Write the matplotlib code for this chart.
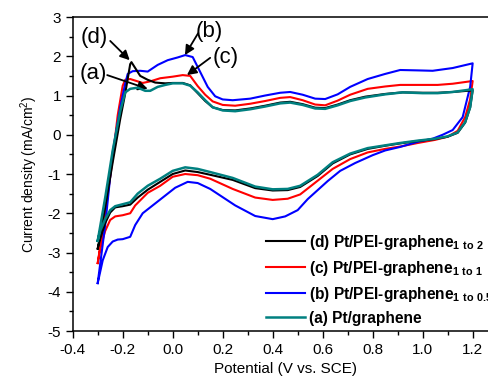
import numpy as np
import matplotlib
matplotlib.use('Agg')
import matplotlib.pyplot as plt
from matplotlib.ticker import MultipleLocator

plt.rcParams['font.family'] = ['Liberation Sans', 'DejaVu Sans']
plt.rcParams['mathtext.fontset'] = 'custom'
plt.rcParams['mathtext.rm'] = 'Liberation Sans'
plt.rcParams['mathtext.bf'] = 'Liberation Sans:bold'

# (a) Pt/graphene  -- forward then reverse scan
a_x = [-0.30, -0.27, -0.24, -0.21, -0.19, -0.17, -0.14, -0.11, -0.09, -0.06, -0.03, 0.00, 0.04, 0.07,
       0.10, 0.13, 0.16, 0.20, 0.25, 0.31, 0.37, 0.43, 0.47, 0.52, 0.57, 0.61, 0.66, 0.71, 0.77, 0.85,
       0.92, 1.00, 1.06, 1.12, 1.20,
       1.19, 1.17, 1.14, 1.10, 1.05, 0.98, 0.91, 0.85, 0.78, 0.71, 0.64, 0.58, 0.51, 0.46, 0.40, 0.33,
       0.24, 0.15, 0.10, 0.05, 0.00, -0.05, -0.10, -0.14, -0.17, -0.20, -0.23, -0.25, -0.27, -0.29, -0.30]
a_y = [-2.70, -1.60, -0.40, 0.60, 1.08, 1.17, 1.20, 1.12, 1.12, 1.22, 1.27, 1.31, 1.31, 1.25,
       1.08, 0.88, 0.70, 0.62, 0.60, 0.65, 0.72, 0.80, 0.82, 0.76, 0.67, 0.66, 0.75, 0.86, 0.95, 1.03,
       1.08, 1.06, 1.06, 1.09, 1.16,
       0.70, 0.32, 0.06, -0.04, -0.10, -0.15, -0.21, -0.27, -0.34, -0.48, -0.70, -1.02, -1.30, -1.38, -1.39, -1.32,
       -1.10, -0.95, -0.87, -0.83, -0.92, -1.12, -1.30, -1.50, -1.72, -1.77, -1.82, -1.92, -2.15, -2.45, -2.70]

# (d) Pt/PEI-graphene 1 to 2
d_x = [-0.30, -0.27, -0.24, -0.21, -0.19, -0.17, -0.165, -0.15, -0.13, -0.10, -0.07, -0.03, 0.00, 0.04,
       0.07, 0.10, 0.13, 0.16, 0.20, 0.25, 0.31, 0.37, 0.43, 0.47, 0.52, 0.57, 0.61, 0.66, 0.71, 0.77,
       0.85, 0.92, 1.00, 1.06, 1.12, 1.20,
       1.19, 1.17, 1.14, 1.10, 1.05, 0.98, 0.91, 0.85, 0.78, 0.71, 0.64, 0.58, 0.51, 0.46, 0.40, 0.33,
       0.24, 0.15, 0.10, 0.05, 0.00, -0.05, -0.10, -0.14, -0.17, -0.20, -0.23, -0.25, -0.27, -0.29, -0.30]
d_y = [-2.90, -1.85, -0.70, 0.40, 1.05, 1.80, 1.85, 1.70, 1.50, 1.40, 1.33, 1.31, 1.32, 1.32,
       1.26, 1.06, 0.86, 0.70, 0.63, 0.62, 0.67, 0.74, 0.82, 0.84, 0.78, 0.69, 0.68, 0.77, 0.88, 0.97,
       1.04, 1.08, 1.07, 1.07, 1.09, 1.13,
       0.70, 0.31, 0.05, -0.05, -0.11, -0.16, -0.22, -0.28, -0.36, -0.50, -0.73, -1.05, -1.33, -1.41, -1.42, -1.36,
       -1.15, -1.02, -0.95, -0.91, -1.00, -1.20, -1.40, -1.60, -1.78, -1.82, -1.85, -1.98, -2.25, -2.65, -2.90]

# (c) Pt/PEI-graphene 1 to 1
c_x = [-0.30, -0.27, -0.24, -0.22, -0.20, -0.19, -0.17, -0.14, -0.12, -0.09, -0.05, 0.00, 0.04, 0.07,
       0.10, 0.13, 0.16, 0.20, 0.25, 0.31, 0.37, 0.43, 0.47, 0.52, 0.57, 0.61, 0.66, 0.71, 0.78, 0.85,
       0.91, 1.00, 1.06, 1.12, 1.20,
       1.19, 1.17, 1.14, 1.10, 1.05, 0.98, 0.91, 0.85, 0.78, 0.71, 0.64, 0.58, 0.51, 0.46, 0.40, 0.33,
       0.24, 0.15, 0.10, 0.05, 0.00, -0.05, -0.10, -0.15, -0.17, -0.20, -0.23, -0.25, -0.27, -0.29, -0.30]
c_y = [-3.27, -2.00, -0.60, 0.50, 1.25, 1.40, 1.42, 1.36, 1.32, 1.36, 1.44, 1.48, 1.52, 1.50,
       1.24, 1.02, 0.85, 0.76, 0.74, 0.79, 0.86, 0.94, 0.96, 0.88, 0.77, 0.75, 0.87, 1.02, 1.17, 1.23,
       1.27, 1.27, 1.27, 1.30, 1.37,
       0.90, 0.45, 0.10, -0.05, -0.13, -0.21, -0.30, -0.36, -0.45, -0.62, -0.87, -1.17, -1.52, -1.63, -1.66, -1.60,
       -1.38, -1.12, -1.03, -1.00, -1.07, -1.30, -1.48, -1.80, -2.00, -2.05, -2.08, -2.17, -2.45, -2.90, -3.27]

# (b) Pt/PEI-graphene 1 to 0.5
b_x = [-0.30, -0.27, -0.24, -0.21, -0.19, -0.18, -0.16, -0.13, -0.10, -0.06, -0.02, 0.02, 0.05, 0.08,
       0.11, 0.14, 0.17, 0.20, 0.24, 0.31, 0.37, 0.43, 0.47, 0.52, 0.57, 0.61, 0.66, 0.71, 0.78, 0.85,
       0.91, 0.98, 1.04, 1.12, 1.20,
       1.19, 1.16, 1.12, 1.08, 1.04, 0.98, 0.91, 0.85, 0.80, 0.73, 0.67, 0.62, 0.58, 0.54, 0.50, 0.45,
       0.40, 0.33, 0.25, 0.15, 0.10, 0.06, 0.01, -0.04, -0.08, -0.12, -0.15, -0.17, -0.20, -0.22, -0.24,
       -0.26, -0.28, -0.30]
b_y = [-3.78, -2.30, -0.45, 0.70, 1.30, 1.55, 1.62, 1.63, 1.61, 1.78, 1.90, 1.97, 2.03, 1.98,
       1.60, 1.22, 0.98, 0.90, 0.88, 0.92, 1.00, 1.07, 1.09, 1.02, 0.92, 0.91, 1.03, 1.22, 1.42, 1.55,
       1.65, 1.64, 1.63, 1.70, 1.82,
       1.22, 0.45, 0.12, 0.00, -0.10, -0.18, -0.31, -0.40, -0.52, -0.72, -0.92, -1.18, -1.41, -1.64, -1.92, -2.08,
       -2.15, -2.07, -1.80, -1.38, -1.23, -1.20, -1.35, -1.60, -1.80, -2.00, -2.30, -2.60, -2.66, -2.67, -2.72,
       -2.86, -3.20, -3.78]

labels = [r'(d) Pt/PEI-graphene$_{\mathbf{1\ to\ 2}}$',
          r'(c) Pt/PEI-graphene$_{\mathbf{1\ to\ 1}}$',
          r'(b) Pt/PEI-graphene$_{\mathbf{1\ to\ 0.5}}$',
          '(a) Pt/graphene']

fig = plt.figure(figsize=(4.89, 3.78), dpi=100)
ax = fig.add_axes([0.1487, 0.1243, 0.869, 0.8307])

ax.plot(d_x, d_y, color='black', lw=1.5, label=labels[0], zorder=3)
ax.plot(c_x, c_y, color='#ff0000', lw=1.5, label=labels[1], zorder=2)
ax.plot(b_x, b_y, color='#0000ff', lw=1.5, label=labels[2], zorder=2)
ax.plot(a_x, a_y, color='#008080', lw=1.8, label=labels[3], zorder=4)

ax.set_xlim(-0.4, 1.3)
ax.set_ylim(-5, 3)
ax.xaxis.set_minor_locator(MultipleLocator(0.1))
ax.yaxis.set_minor_locator(MultipleLocator(0.5))
ax.set_xticks(np.arange(-0.4, 1.21, 0.2))
ax.set_xticklabels(['-0.4', '-0.2', '0.0', '0.2', '0.4', '0.6', '0.8', '1.0', '1.2'])
ax.set_yticks(range(-5, 4))
ax.set_yticklabels([str(v) for v in range(-5, 4)])
ax.tick_params(which='major', direction='out', length=5, width=1, labelsize=11)
ax.tick_params(which='minor', direction='out', length=3, width=1)
for s in ax.spines.values():
    s.set_linewidth(1.1)

ax.set_xlabel('Potential (V vs. SCE)', fontsize=11, labelpad=4)
ax.set_ylabel('Current density (mA/cm$^2$)', fontsize=10, labelpad=5)

# peak labels
arr = dict(arrowstyle='-|>', color='black', lw=1.3, mutation_scale=14, shrinkA=0, shrinkB=0)
ax.annotate('', xy=(-0.172, 1.90), xytext=(-0.250, 2.39), arrowprops=arr)
ax.annotate('', xy=(-0.10, 1.17), xytext=(-0.262, 1.52), arrowprops=arr)
ax.annotate('', xy=(0.049, 2.03), xytext=(0.102, 2.59), arrowprops=arr)
ax.annotate('', xy=(0.057, 1.52), xytext=(0.15, 1.96), arrowprops=arr)
ax.text(-0.312, 2.49, '(d)', fontsize=16, ha='center', va='center')
ax.text(-0.318, 1.57, '(a)', fontsize=16, ha='center', va='center')
ax.text(0.146, 2.64, '(b)', fontsize=16, ha='center', va='center')
ax.text(0.21, 1.96, '(c)', fontsize=16, ha='center', va='center')

leg = ax.legend(loc='upper left', bbox_to_anchor=(258 / 489, 1 - 225 / 378),
                bbox_transform=fig.transFigure, frameon=False, borderpad=0,
                handlelength=2.5, handletextpad=0.3, labelspacing=0.45,
                prop={'weight': 'bold', 'size': 11.2})

fig.savefig('out.png', dpi=100)
